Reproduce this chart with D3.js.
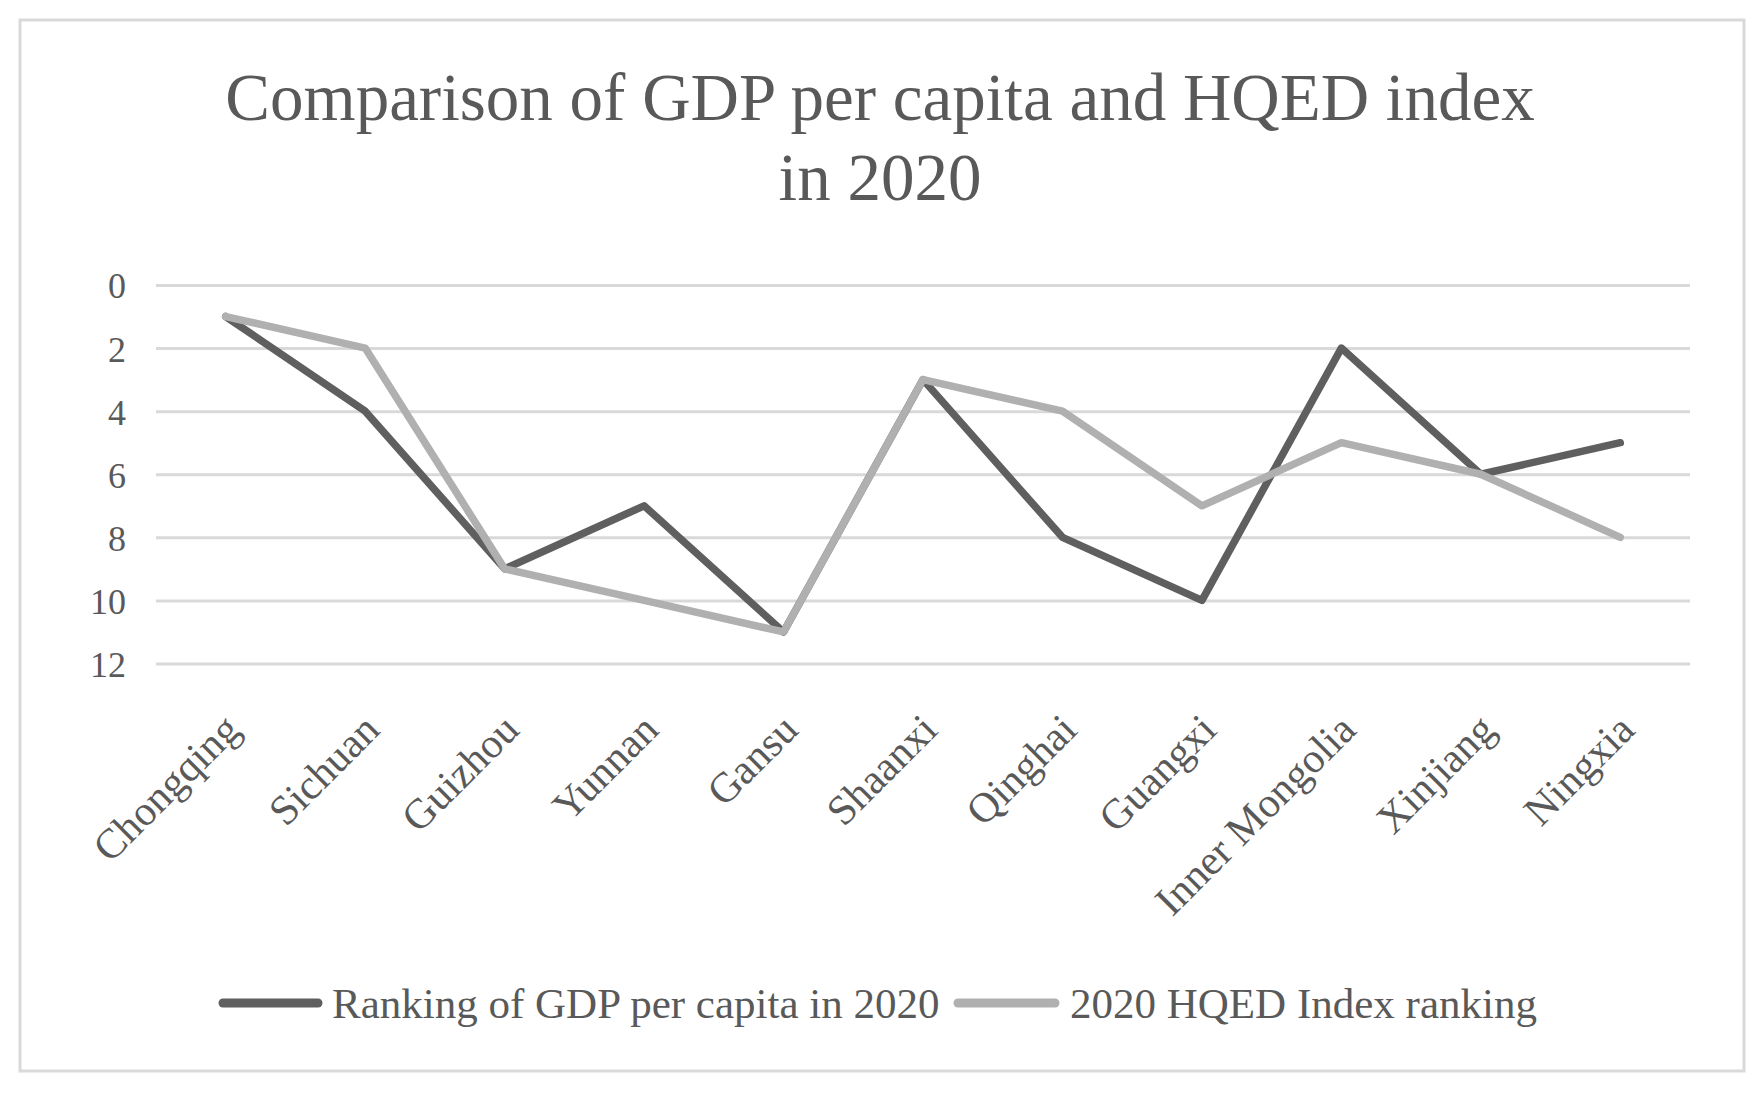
<!DOCTYPE html>
<html>
<head>
<meta charset="utf-8">
<script src="https://cdn.jsdelivr.net/npm/d3@7"></script>
<style>
  html, body { margin: 0; padding: 0; background: #fff; }
  svg { display: block; }
  text { font-family: "Liberation Serif", "Times New Roman", serif; fill: #595959; }
</style>
</head>
<body>
<svg id="chart" width="1763" height="1095"></svg>
<script>
const categories = ["Chongqing", "Sichuan", "Guizhou", "Yunnan", "Gansu", "Shaanxi", "Qinghai", "Guangxi", "Inner Mongolia", "Xinjiang", "Ningxia"];
const gdpRanking = [1, 4, 9, 7, 11, 3, 8, 10, 2, 6, 5];
const hqedRanking = [1, 2, 9, 10, 11, 3, 4, 7, 5, 6, 8];
const yTicks = [0, 2, 4, 6, 8, 10, 12];
const seriesNames = ["Ranking of GDP per capita in 2020", "2020 HQED Index ranking"];
const seriesColors = ["#5f5f5f", "#b0b0b0"];
const titleLines = ["Comparison of GDP per capita and HQED index", "in 2020"];

const svg = d3.select("#chart");

// outer border
svg.append("rect").attr("x", 20).attr("y", 20).attr("width", 1724).attr("height", 1051)
  .attr("fill", "#fff").attr("stroke", "#d9d9d9").attr("stroke-width", 3);

// title
svg.append("text").attr("x", 880).attr("y", 120).attr("text-anchor", "middle")
  .attr("font-size", 67).text(titleLines[0]);
svg.append("text").attr("x", 880).attr("y", 200).attr("text-anchor", "middle")
  .attr("font-size", 67).text(titleLines[1]);

const plotLeft = 156, plotRight = 1690;
const x = d3.scalePoint().domain(categories).range([plotLeft, plotRight]).padding(0.5);
const y = d3.scaleLinear().domain([0, 12]).range([285, 663.5]);

// gridlines via axis
const yAxis = d3.axisLeft(y).tickValues(yTicks).tickSize(-(plotRight - plotLeft)).tickPadding(30);
const gy = svg.append("g").attr("transform", `translate(${plotLeft},0)`).call(yAxis);
gy.select(".domain").remove();
gy.selectAll(".tick line").attr("stroke", "#d9d9d9").attr("stroke-width", 3);
gy.selectAll(".tick text").attr("font-size", 36).attr("fill", "#595959")
  .attr("font-family", "Liberation Serif, Times New Roman, serif").attr("x", -30).attr("dy", "0.36em");

// x labels
const xAxis = d3.axisBottom(x).tickSize(0);
const gx = svg.append("g").attr("transform", "translate(0,712)").call(xAxis);
gx.select(".domain").remove();
gx.selectAll(".tick text")
  .attr("font-size", 42).attr("fill", "#595959")
  .attr("font-family", "Liberation Serif, Times New Roman, serif")
  .attr("text-anchor", "end")
  .attr("dy", 0).attr("y", 0)
  .attr("transform", "translate(16,20) rotate(-45)");

// lines
const line = d3.line().x((d, i) => x(categories[i])).y(d => y(d));
[gdpRanking, hqedRanking].forEach((s, k) => {
  svg.append("path").datum(s).attr("d", line)
    .attr("fill", "none").attr("stroke", seriesColors[k]).attr("stroke-width", 7.5)
    .attr("stroke-linejoin", "round").attr("stroke-linecap", "round");
});

// legend
const legendItems = [
  { name: seriesNames[0], color: seriesColors[0], x0: 223, x1: 318, tx: 332 },
  { name: seriesNames[1], color: seriesColors[1], x0: 958, x1: 1055, tx: 1070 }
];
const lg = svg.append("g");
legendItems.forEach(it => {
  lg.append("line").attr("x1", it.x0).attr("x2", it.x1).attr("y1", 1003).attr("y2", 1003)
    .attr("stroke", it.color).attr("stroke-width", 9).attr("stroke-linecap", "round");
  lg.append("text").attr("x", it.tx).attr("y", 1018).attr("font-size", 43).text(it.name);
});
</script>
</body>
</html>
